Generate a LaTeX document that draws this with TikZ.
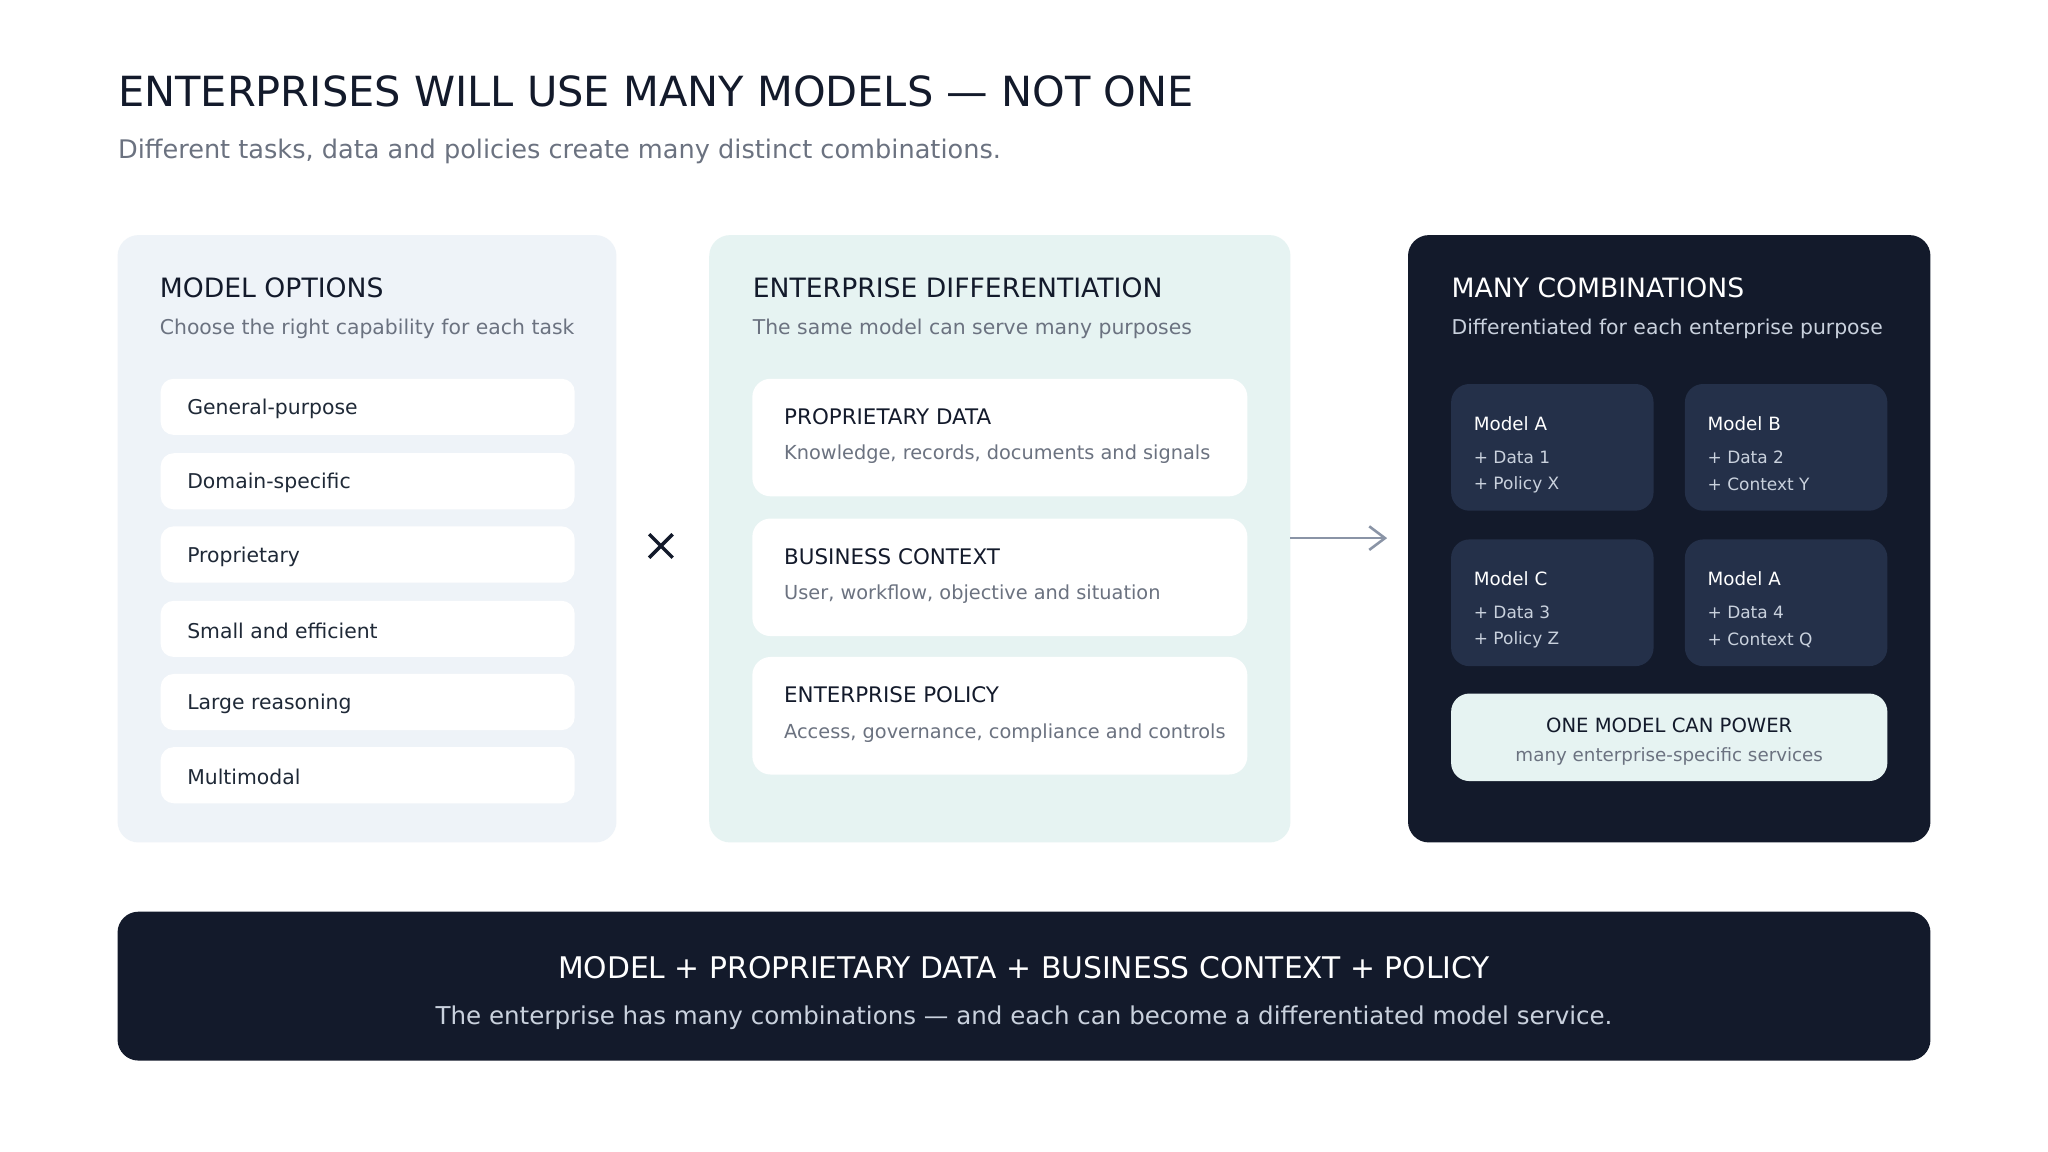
\documentclass[tikz,border=0pt]{standalone}
\usepackage{fontspec}
\setmainfont{DejaVu Sans}
\usetikzlibrary{arrows.meta,calc}
\begin{document}
\definecolor{navy}{HTML}{131A2B}
\definecolor{card}{HTML}{243049}
\definecolor{lpanel}{HTML}{EEF3F8}
\definecolor{mpanel}{HTML}{E6F3F2}
\definecolor{gtext}{HTML}{6B7280}
\definecolor{dtext}{HTML}{1F2937}
\definecolor{ltext}{HTML}{C9D1DD}
\definecolor{arrowc}{HTML}{8A94A6}
\begin{tikzpicture}[x=0.5pt,y=-0.5pt,
  lt/.style={anchor=west,inner sep=0pt},
  panel/.style={rounded corners=8pt,draw=none},
  item/.style={lt,font=\fontsize{7.8}{9}\selectfont,text=dtext},
  head/.style={lt,font=\fontsize{10.2}{12}\selectfont},
  sub/.style={lt,font=\fontsize{7.8}{9}\selectfont,text=gtext},
  csub/.style={lt,font=\fontsize{7.4}{9}\selectfont,text=gtext},
  mhead/.style={lt,font=\fontsize{7}{8}\selectfont,text=white},
  msub/.style={lt,font=\fontsize{6.5}{8}\selectfont,text=ltext}]
\useasboundingbox (0,0) rectangle (1568,882);
\fill[white] (0,0) rectangle (1568,882);
\node[lt,font=\fontsize{15.9}{19}\selectfont,text=navy] (title) at (90,70) {ENTERPRISES WILL USE MANY MODELS — NOT ONE};
\node[lt,font=\fontsize{9.8}{12}\selectfont,text=gtext] (subt) at (90,116) {Different tasks, data and policies create many distinct combinations.};
% left panel
\fill[lpanel,panel] (90,180) rectangle (472,645);
\node[head,text=navy] (lh) at (122,220) {MODEL OPTIONS};
\node[sub] (ls) at (122,252) {Choose the right capability for each task};
\foreach \y/\t/\n in {290/General-purpose/a,347/Domain-specific/b,403/Proprietary/c,460/Small and efficient/d,516/Large reasoning/e,572/Multimodal/f}{
  \fill[white,rounded corners=5pt] (123,\y) rectangle (440,\y+43);
  \node[item] (it\n) at (143,\y+23) {\t};
}
\coordinate (times) at (506,418);
\draw[navy,line width=1.3pt] ($(times)+(-9,-9)$) -- ($(times)+(9,9)$) ($(times)+(-9,9)$) -- ($(times)+(9,-9)$);
% middle panel
\fill[mpanel,panel] (543,180) rectangle (988,645);
\node[head,text=navy] (mh) at (576,220) {ENTERPRISE DIFFERENTIATION};
\node[sub] (ms) at (576,252) {The same model can serve many purposes};
\foreach \y/\t/\s/\n in {290/PROPRIETARY DATA/{Knowledge, records, documents and signals}/a,397/BUSINESS CONTEXT/{User, workflow, objective and situation}/b,503/ENTERPRISE POLICY/{Access, governance, compliance and controls}/c}{
  \fill[white,rounded corners=7pt] (576,\y) rectangle (955,\y+90);
  \node[lt,font=\fontsize{8.2}{10}\selectfont,text=navy] (mc\n) at (600,\y+29) {\t};
  \node[csub] (mcs\n) at (600,\y+58) {\s};
}
% arrow
\coordinate (a1) at (988,412);
\coordinate (a2) at (1062,412);
\draw[color=arrowc,line width=1pt,-{Straight Barb[length=6pt,width=9pt]}] (a1) -- (a2);
% right panel
\fill[navy,panel] (1078,180) rectangle (1478,645);
\node[head,text=white] (rh) at (1111,220) {MANY COMBINATIONS};
\node[sub,text=ltext] (rs) at (1111,252) {Differentiated for each enterprise purpose};
\foreach \x/\y/\m/\d/\p/\n in {1111/294/Model A/Data 1/Policy X/a,1290/294/Model B/Data 2/Context Y/b,1111/413/Model C/Data 3/Policy Z/c,1290/413/Model A/Data 4/Context Q/d}{
  \fill[card,rounded corners=7pt] (\x,\y) rectangle (\x+155,\y+97);
  \node[mhead] (cm\n) at (\x+17,\y+30) {\m};
  \node[msub] (cd\n) at (\x+17,\y+56) {+ \d};
  \node[msub] (cp\n) at (\x+17,\y+77) {+ \p};
}
\fill[mpanel,rounded corners=7pt] (1111,531) rectangle (1445,598);
\node[font=\fontsize{7.5}{9}\selectfont,text=navy] (one) at (1278,555) {ONE MODEL CAN POWER};
\node[font=\fontsize{7}{9}\selectfont,text=gtext] (many) at (1278,579) {many enterprise-specific services};
% bottom bar
\fill[navy,panel] (90,698) rectangle (1478,812);
\node[font=\fontsize{11.4}{14}\selectfont,text=white] (bh) at (784,741) {MODEL + PROPRIETARY DATA + BUSINESS CONTEXT + POLICY};
\node[font=\fontsize{9.4}{12}\selectfont,text=ltext] (bs) at (784,779) {The enterprise has many combinations — and each can become a differentiated model service.};
\end{tikzpicture}
\end{document}
